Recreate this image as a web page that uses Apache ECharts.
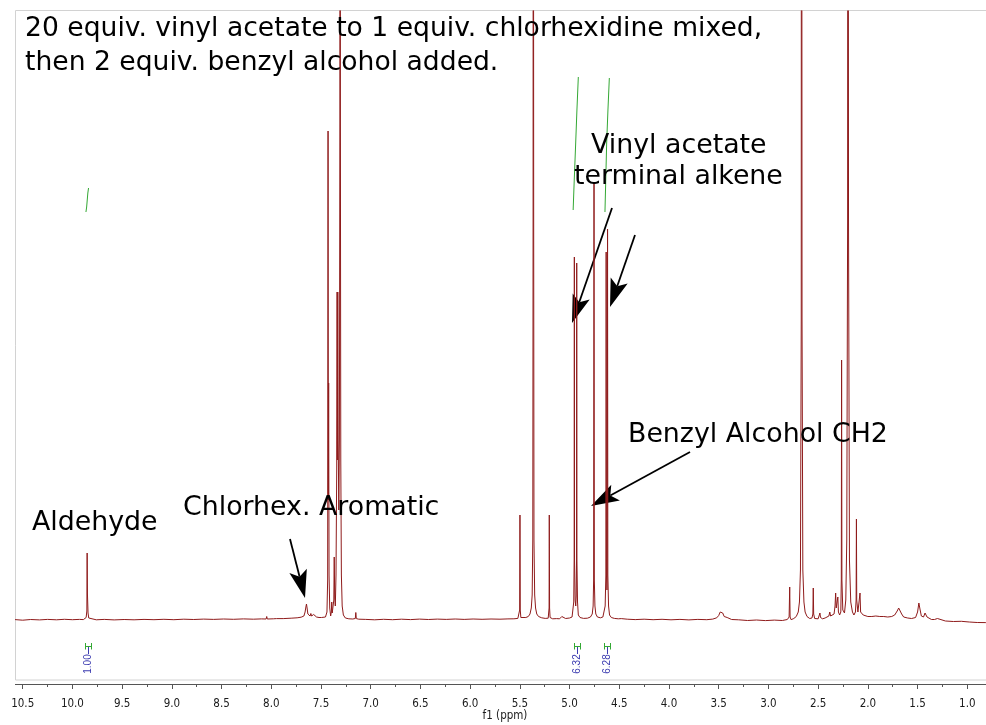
<!DOCTYPE html>
<html>
<head>
<meta charset="utf-8">
<script src="https://cdn.jsdelivr.net/npm/echarts@6/dist/echarts.min.js"></script>
<style>
  html, body { margin: 0; padding: 0; background: #ffffff; }
  #chart { width: 986px; height: 725px; }
</style>
</head>
<body>
<div id="chart"></div>
<script>
// 1H NMR trace: [chemical shift (ppm), intensity above baseline]
const spectrum = [
  [10.577, 0.4], [10.50, -0.2], [10.42, 0.5], [10.33, 0.1], [10.25, 0.6], [10.16, 0.2], [10.08, 0.7], [10.00, 0.3], [9.93, 0.6], [9.89, 0.4],
  // aldehyde
  [9.872, 0.8], [9.862, 2.5], [9.855, 9], [9.852, 67], [9.849, 26], [9.846, 28], [9.843, 7], [9.836, 2], [9.826, 0.6],
  [9.76, 0.2], [9.68, 0.6], [9.58, 0.1], [9.48, 0.5], [9.38, 0.2], [9.28, 0.6], [9.18, 0.3], [9.08, 0.7], [8.98, 0.3], [8.88, 0.8],
  [8.78, 0.5], [8.68, 0.9], [8.58, 0.6], [8.48, 1.0], [8.38, 0.7], [8.28, 1.1], [8.18, 0.8], [8.10, 1.1], [8.052, 1.0], [8.046, 3.5],
  [8.040, 1.0], [7.98, 1.2], [7.948, 1.4], [7.942, 3.2], [7.936, 1.3], [7.88, 1.4], [7.80, 1.8], [7.74, 2.2], [7.70, 2.8],
  // chlorhexidine aromatic
  [7.672, 4], [7.660, 8], [7.652, 13], [7.646, 16], [7.640, 12], [7.632, 6], [7.624, 4.5], [7.617, 7], [7.610, 4], [7.602, 6.5],
  [7.595, 4], [7.585, 3.5], [7.574, 5.5], [7.566, 6.5], [7.558, 4], [7.545, 3], [7.52, 2.5], [7.505, 4.5], [7.495, 2.5], [7.475, 2.5],
  // aromatic multiplets
  [7.455, 3], [7.440, 8], [7.433, 40], [7.429, 489], [7.426, 120], [7.423, 237], [7.419, 45], [7.412, 12], [7.403, 4], [7.396, 8],
  [7.392, 18], [7.387, 7], [7.378, 6], [7.371, 20], [7.367, 63], [7.362, 22], [7.356, 14], [7.349, 45], [7.342, 150], [7.338, 328],
  [7.335, 160], [7.331, 328], [7.327, 180], [7.321, 110], [7.315, 180], [7.310, 500], [7.3085, 1500], [7.3065, 1500], [7.305, 500],
  [7.301, 160], [7.295, 45], [7.287, 14], [7.275, 5], [7.255, 2], [7.22, 1.2], [7.18, 1.0], [7.155, 1.5], [7.150, 7.5], [7.145, 1.4],
  [7.12, 0.8], [7.05, 0.6], [6.96, 0.2], [6.87, 0.7], [6.78, 0.3], [6.69, 0.8], [6.60, 0.4], [6.51, 0.9], [6.42, 0.5], [6.33, 0.9],
  [6.24, 0.6], [6.15, 1.0], [6.06, 0.6], [5.97, 1.0], [5.88, 0.7], [5.79, 1.0], [5.70, 0.8], [5.62, 1.1], [5.56, 1.2], [5.52, 1.6],
  // 5.50 singlet
  [5.506, 2.5], [5.502, 10], [5.499, 105], [5.496, 10], [5.490, 2.5], [5.47, 1.8], [5.44, 2.5],
  // 5.36 singlet
  [5.415, 3.5], [5.398, 6], [5.385, 12], [5.376, 25], [5.370, 80], [5.367, 400], [5.3655, 1500], [5.3625, 1500], [5.361, 400],
  [5.358, 80], [5.351, 25], [5.342, 12], [5.330, 6], [5.312, 3.5], [5.28, 2.2], [5.245, 1.6], [5.215, 1.8],
  // 5.20 singlet
  [5.209, 3], [5.206, 12], [5.204, 105], [5.201, 12], [5.196, 2.5], [5.17, 1.2], [5.13, 1.4], [5.10, 1.2], [5.085, 1.5], [5.078, 3.5],
  [5.072, 1.5], [5.04, 1.5], [5.00, 2], [4.975, 3],
  // vinyl acetate =CH2 (4.95)
  [4.965, 5], [4.958, 18], [4.954, 60], [4.952, 363], [4.950, 60], [4.944, 20], [4.938, 14], [4.933, 24], [4.930, 60], [4.928, 357],
  [4.926, 60], [4.920, 18], [4.912, 5], [4.895, 2.5], [4.86, 1.6], [4.82, 1.8], [4.79, 3], [4.772, 6],
  // benzyl CH2
  [4.763, 14], [4.758, 40], [4.754, 437], [4.751, 40], [4.745, 14], [4.736, 6], [4.72, 3], [4.69, 2.2], [4.665, 3],
  // vinyl acetate =CH2 (4.62)
  [4.652, 5], [4.642, 14], [4.635, 45], [4.632, 368], [4.629, 45], [4.624, 30], [4.621, 45], [4.618, 391], [4.615, 45], [4.608, 14],
  [4.598, 5], [4.58, 2.5], [4.55, 1.6], [4.51, 1.2], [4.48, 1.4], [4.472, 3], [4.466, 1.3], [4.42, 0.8],
  [4.34, 0.4], [4.25, 0.8], [4.16, 0.3], [4.07, 0.7], [3.98, 0.2], [3.89, 0.6], [3.80, 0.1], [3.71, 0.6], [3.62, 0.3], [3.56, 0.9],
  [3.52, 2.2], [3.50, 4.5], [3.485, 8], [3.472, 9.5], [3.460, 7], [3.445, 3.5], [3.43, 2.0], [3.415, 2.5], [3.400, 1.2], [3.37, 0.5],
  [3.30, 0.2], [3.21, -0.5], [3.12, 0], [3.03, -0.6], [2.94, -0.1], [2.86, -0.5], [2.81, 0.5], [2.792, 3], [2.786, 33], [2.782, 3],
  [2.772, 0.3],
  // 2.66 singlet
  [2.745, 1.5], [2.72, 3.5], [2.70, 8], [2.688, 18], [2.678, 50], [2.670, 300], [2.6675, 1500], [2.6645, 1500], [2.662, 300],
  [2.654, 50], [2.643, 18], [2.631, 8], [2.612, 3.5], [2.585, 1.5], [2.562, 2], [2.553, 6], [2.549, 32], [2.545, 6], [2.535, 1.5],
  [2.50, 1.2], [2.488, 2.5], [2.482, 7], [2.476, 2.5], [2.455, 1.2], [2.43, 2], [2.41, 3], [2.392, 4], [2.383, 8], [2.375, 4],
  [2.355, 3.5], [2.34, 6], [2.330, 14], [2.324, 27], [2.318, 12], [2.310, 10], [2.302, 23], [2.296, 8], [2.284, 5],
  [2.272, 8], [2.267, 40], [2.264, 260], [2.261, 40], [2.252, 10], [2.235, 7], [2.222, 20], [2.212, 80], [2.2035, 400],
  [2.2005, 1500], [2.1975, 1500], [2.1945, 400], [2.185, 60], [2.172, 18], [2.155, 8], [2.140, 5], [2.125, 8], [2.118, 20],
  [2.115, 101], [2.112, 20], [2.100, 8], [2.085, 10], [2.079, 27], [2.073, 8], [2.060, 6], [2.053, 10], [2.047, 5], [2.03, 4],
  [2.00, 3.5], [1.96, 3.5], [1.92, 4], [1.88, 3.5], [1.84, 3.5], [1.80, 3], [1.76, 3.5], [1.73, 5], [1.705, 9], [1.690, 12],
  [1.675, 10], [1.66, 6], [1.64, 3], [1.60, 2], [1.56, 1.5], [1.52, 2.5], [1.500, 8], [1.487, 17], [1.476, 11], [1.462, 4],
  [1.440, 3], [1.425, 7], [1.416, 7.5], [1.405, 3], [1.385, 1.5], [1.36, 0.5], [1.33, 0.5], [1.312, 2], [1.300, 1.5], [1.28, -0.2],
  [1.22, -1], [1.14, -1.5], [1.06, -1.3], [0.98, -2], [0.90, -2.5], [0.82, -2.6], [0.70, -2.8]
];

// integral curves [ppm, integral trace height]
const integralAldehyde = [[9.864, 408], [9.857, 413], [9.851, 420], [9.845, 427], [9.838, 432]];
const integralVinylTrans = [[4.964, 410], [4.953, 440], [4.940, 473], [4.926, 510], [4.912, 543]];
const integralVinylCis = [[4.644, 408], [4.636, 440], [4.627, 477], [4.614, 510], [4.600, 542]];

// integration values and where they sit on the shift axis
const integralPositions = [9.840, 4.928, 4.620];
const integralValues = ['1.00', '6.32', '6.28'];

const noteLines = [
  '20 equiv. vinyl acetate to 1 equiv. chlorhexidine mixed,',
  'then 2 equiv. benzyl alcohol added.'
];
const peakLabels = ['Aldehyde', 'Chlorhex. Aromatic', 'Vinyl acetate', 'terminal alkene', 'Benzyl Alcohol CH2'];
const axisTitle = 'f1 (ppm)';

const TRACE = '#8f1b1b';
const INTEGRAL_GREEN = '#34a834';
const INTEGRAL_BLUE = '#3b3bb0';
const NOTE_FONT = '26.6px "DejaVu Sans", Verdana, sans-serif';
const ANNOT_FONT = '26.8px "DejaVu Sans", Verdana, sans-serif';
const TICK_FONT_FAMILY = '"DejaVu Sans Condensed", "Liberation Sans", sans-serif';

const chart = echarts.init(document.getElementById('chart'), null, { renderer: 'canvas' });

function arrow(x1, y1, x2, y2) {
  const dx = x2 - x1, dy = y2 - y1;
  const len = Math.hypot(dx, dy);
  const ux = dx / len, uy = dy / len;
  const headLen = 28, halfW = 9, notch = 6;
  const bx = x2 - ux * headLen, by = y2 - uy * headLen;
  const nx = -uy, ny = ux;
  const mx = x2 - ux * (headLen - notch), my = y2 - uy * (headLen - notch);
  return {
    type: 'group', z: 10,
    children: [
      { type: 'line', shape: { x1: x1, y1: y1, x2: mx, y2: my }, style: { stroke: '#000', lineWidth: 1.8 } },
      { type: 'polygon', shape: { points: [[x2, y2], [bx + nx * halfW, by + ny * halfW], [mx, my], [bx - nx * halfW, by - ny * halfW]] },
        style: { fill: '#000' } }
    ]
  };
}

function label(text, x, y, font) {
  return { type: 'text', x: x, y: y, z: 10,
    style: { text: text, font: font || ANNOT_FONT, fill: '#000', textAlign: 'left', textVerticalAlign: 'middle' } };
}

const option = {
  animation: false,
  backgroundColor: '#ffffff',
  grid: { left: -27, right: -31, top: 11, bottom: 45, show: false, containLabel: false, outerBoundsMode: 'none' },
  xAxis: {
    type: 'value', inverse: true, min: 0.5, max: 11, interval: 0.5, offset: 4,
    axisLine: { onZero: false, lineStyle: { color: '#555555', width: 1 } },
    axisTick: { length: 5, lineStyle: { color: '#555555' } },
    minorTick: { show: true, splitNumber: 2, length: 3, lineStyle: { color: '#555555' } },
    splitLine: { show: false },
    axisLabel: { formatter: v => v.toFixed(1), color: '#1a1a1a', fontSize: 11.5, fontFamily: TICK_FONT_FAMILY, margin: 14 }
  },
  yAxis: { type: 'value', min: -60, max: 609, show: false },
  series: [
    { type: 'line', data: spectrum, showSymbol: false, clip: true, z: 3,
      lineStyle: { color: TRACE, width: 1 }, itemStyle: { color: TRACE } },
    { type: 'line', data: integralAldehyde, showSymbol: false, z: 2, lineStyle: { color: INTEGRAL_GREEN, width: 1 } },
    { type: 'line', data: integralVinylTrans, showSymbol: false, z: 2, lineStyle: { color: INTEGRAL_GREEN, width: 1 } },
    { type: 'line', data: integralVinylCis, showSymbol: false, z: 2, lineStyle: { color: INTEGRAL_GREEN, width: 1 } },
    {
      type: 'custom', z: 4,
      data: integralPositions.map((p, i) => [p, 0, i]),
      encode: { x: 0, y: 1 },
      renderItem: function (params, api) {
        const pt = api.coord([api.value(0), 0]);
        const x = Math.round(pt[0]) + 0.5;
        const y = Math.round(pt[1]);
        const idx = api.value(2);
        const g = { stroke: INTEGRAL_GREEN, lineWidth: 1 };
        return {
          type: 'group',
          children: [
            { type: 'line', shape: { x1: x - 3, y1: y + 26.5, x2: x + 3, y2: y + 26.5 }, style: g },
            { type: 'line', shape: { x1: x - 3, y1: y + 23, x2: x - 3, y2: y + 29.5 }, style: g },
            { type: 'line', shape: { x1: x + 3, y1: y + 23, x2: x + 3, y2: y + 29.5 }, style: g },
            { type: 'line', shape: { x1: x, y1: y + 27, x2: x, y2: y + 34 }, style: { stroke: INTEGRAL_BLUE, lineWidth: 1 } },
            { type: 'text', x: x, y: y + 44, rotation: Math.PI / 2,
              style: { text: integralValues[idx], font: '10px "Liberation Sans", sans-serif', fill: INTEGRAL_BLUE,
                       textAlign: 'center', textVerticalAlign: 'middle' } }
          ]
        };
      }
    }
  ],
  graphic: [
    // plot frame
    { type: 'rect', z: 1, shape: { x: 15.5, y: 10.5, width: 980, height: 669.5 },
      style: { fill: 'none', stroke: '#d2d2d2', lineWidth: 1 } },
    // trims the axis line to the frame's left edge
    { type: 'rect', z: 20, shape: { x: 0, y: 681, width: 15, height: 10 }, style: { fill: '#ffffff' } },
    label(noteLines[0], 25, 29, NOTE_FONT),
    label(noteLines[1], 25, 63, NOTE_FONT),
    label(peakLabels[0], 32, 523),
    label(peakLabels[1], 183, 508),
    label(peakLabels[2], 591, 146),
    label(peakLabels[3], 574, 177),
    label(peakLabels[4], 628, 435),
    arrow(290, 539, 305, 598),
    arrow(612, 208, 572, 323),
    arrow(635, 235, 610, 307),
    arrow(690, 452, 591, 506),
    { type: 'text', x: 505, y: 716, z: 10,
      style: { text: axisTitle, font: '11.5px ' + TICK_FONT_FAMILY, fill: '#1a1a1a', textAlign: 'center', textVerticalAlign: 'middle' } }
  ]
};

chart.setOption(option);
</script>
</body>
</html>
